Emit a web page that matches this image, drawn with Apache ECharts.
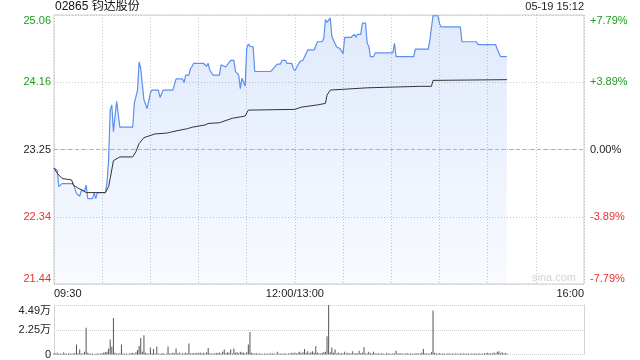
<!DOCTYPE html>
<html><head><meta charset="utf-8">
<script src="https://cdn.jsdelivr.net/npm/echarts@6/dist/echarts.min.js"></script>
<style>html,body{margin:0;padding:0;background:#fff}#c{width:640px;height:360px}</style>
</head><body><div id="c"></div>
<script>
const stockTitle = '02865 钧达股份';
const stamp = '05-19 15:12';
const prevClose = 23.25;
const priceMin = 21.44, priceMax = 25.06;
const leftLabels = ['21.44', '22.34', '23.25', '24.16', '25.06'];
const rightLabels = ['-7.79%', '-3.89%', '0.00%', '+3.89%', '+7.79%'];
const volLabels = ['0', '2.25万', '4.49万'];
const volMax = 4.49;

const priceTimes = ['09:30','09:32','09:33','09:35','09:42','09:44','09:45','09:46','09:47','09:49','09:50','09:51','09:54','09:55','09:56','09:57','10:02','10:03','10:04','10:05','10:06','10:07','10:08','10:09','10:10','10:11','10:19','10:20','10:22','10:23','10:24','10:26','10:28','10:29','10:30','10:31','10:35','10:36','10:37','10:38','10:44','10:46','10:50','10:51','10:52','10:54','10:55','10:56','10:57','11:03','11:05','11:06','11:07','11:09','11:13','11:14','11:15','11:17','11:18','11:20','11:22','11:23','11:24','11:25','11:26','11:27','11:28','11:29','11:30','11:31','11:32','11:34','11:35','11:45','11:46','11:49','11:51','11:52','11:54','11:55','11:58','11:59','12:00',
'13:01','13:03','13:05','13:06','13:08','13:12','13:14','13:17','13:18','13:19','13:20','13:22','13:23','13:24','13:26','13:28','13:30','13:31','13:35','13:37','13:38','13:39','13:41','13:42','13:44','13:45','13:46','13:47','13:49','13:50','14:01','14:02','14:03','14:14','14:15','14:23','14:24','14:26','14:29','14:30','14:31','14:43','14:44','14:53','14:54','15:05','15:06','15:07','15:08','15:12'];
const priceValues = [23.00,22.97,22.75,22.79,22.79,22.66,22.66,22.62,22.70,22.69,22.77,22.59,22.59,22.67,22.59,22.67,22.67,22.80,23.11,23.78,23.85,23.49,23.49,23.90,23.90,23.55,23.55,23.87,24.05,24.43,24.34,23.92,23.80,23.80,24.01,24.05,24.05,23.95,23.95,24.05,24.05,24.20,24.20,24.15,24.25,24.25,24.34,24.37,24.41,24.41,24.37,24.41,24.32,24.25,24.25,24.39,24.40,24.36,24.37,24.45,24.45,24.30,24.32,24.25,24.07,24.21,24.22,24.10,24.61,24.67,24.64,24.63,24.30,24.30,24.32,24.40,24.40,24.45,24.45,24.41,24.41,24.34,24.31,
24.31,24.43,24.45,24.45,24.59,24.59,24.70,24.70,24.75,25.00,24.96,25.02,24.77,24.72,24.63,24.61,24.54,24.76,24.76,24.80,24.76,24.80,24.80,24.95,24.95,24.68,24.64,24.50,24.50,24.55,24.55,24.68,24.50,24.50,24.60,24.60,24.72,25.05,25.05,24.95,24.90,24.90,24.70,24.70,24.66,24.66,24.60,24.59,24.50,24.50];

const avgTimes = ['09:30','09:32','09:35','09:41','09:42','09:45','09:48','09:50','10:02','10:04','10:05','10:07','10:11','10:19','10:21','10:23','10:26','10:33','10:40','10:42','10:46','10:53','10:56','11:04','11:06','11:13','11:21','11:29','11:31','12:00','13:04','13:14','13:19','13:20','13:22','13:30','13:45','14:18','14:25','14:26','15:12'];
const avgValues = [23.00,22.93,22.86,22.84,22.77,22.73,22.70,22.67,22.67,22.75,22.86,23.10,23.15,23.15,23.22,23.33,23.41,23.46,23.47,23.48,23.50,23.53,23.55,23.58,23.60,23.61,23.67,23.70,23.78,23.79,23.82,23.85,23.87,23.98,24.05,24.06,24.08,24.10,24.10,24.18,24.19];

// volume per trading minute from 09:30 (unit: 万股)
const volumeValues = [
0.12,0.08,0.15,0.06,0.10,0.05,0.18,0.09,0.07,0.12,
0.10,0.06,0.08,0.14,0.90,0.12,0.45,0.10,0.08,0.25,
2.42,0.15,0.10,0.06,0.08,0.05,0.07,0.10,0.06,0.09,
0.12,0.18,0.20,0.25,0.55,1.35,0.70,3.32,0.15,0.10,
0.08,0.12,0.90,0.10,0.06,0.08,0.05,0.09,0.12,0.15,
0.10,0.20,0.40,0.78,1.50,0.25,1.74,0.15,0.10,0.08,
0.63,0.12,0.50,0.10,0.72,0.08,0.06,0.10,0.14,0.05,
0.09,0.72,0.10,0.08,0.15,0.12,0.55,0.10,0.18,0.07,
0.12,0.08,0.15,0.10,0.99,0.12,0.09,0.14,0.10,0.16,
0.12,0.18,0.10,0.15,0.08,0.20,0.60,0.12,0.06,0.10,
0.08,0.15,0.12,0.18,0.10,0.25,0.45,0.12,0.20,0.15,
0.45,0.10,0.54,0.15,0.20,0.12,0.25,0.18,0.15,0.10,
0.20,0.90,2.04,0.15,0.10,0.08,0.12,0.06,0.10,0.08,
0.05,0.09,0.07,0.10,0.06,0.12,0.08,0.10,0.05,0.25,
0.08,0.06,0.10,0.07,0.12,0.05,0.09,0.10,0.15,0.12,
0.18,0.10,0.15,0.25,0.12,0.20,0.50,0.15,0.30,0.12,
0.20,0.30,0.15,0.75,0.18,0.12,0.10,0.15,0.20,0.25,
1.65,4.49,0.20,0.63,0.15,0.45,0.10,0.18,0.08,0.12,
0.10,0.25,0.08,0.15,0.10,0.12,0.30,0.08,0.14,0.10,
0.35,0.12,0.15,0.66,0.10,0.08,0.25,0.12,0.09,0.25,
0.10,0.08,0.12,0.06,0.10,0.09,0.05,0.12,0.08,0.10,
0.07,0.12,0.09,0.33,0.10,0.08,0.12,0.06,0.10,0.08,
0.12,0.07,0.10,0.09,0.06,0.10,0.12,0.08,0.10,0.15,
0.50,0.12,0.08,0.10,0.06,0.20,3.98,0.15,0.10,0.08,
0.12,0.06,0.10,0.08,0.05,0.09,0.12,0.07,0.10,0.06,
0.08,0.10,0.05,0.12,0.07,0.09,0.06,0.10,0.08,0.05,
0.10,0.07,0.12,0.06,0.09,0.08,0.05,0.10,0.12,0.08,
0.15,0.10,0.12,0.08,0.18,0.10,0.25,0.30,0.12,0.20,
0.10,0.15,0.08];

const xLabels = {0: '09:30', 150: '12:00/13:00', 330: '16:00'};
const GREEN = '#1b9e1b', RED = '#e8312f', BLACK = '#222';
const labelColors = [RED, RED, BLACK, GREEN, GREEN];

function toIdx(t) {
  const p = t.split(':').map(Number);
  const v = p[0] * 60 + p[1];
  return v <= 720 ? v - 570 : v - 630;
}
const priceData = priceTimes.map((t, i) => [toIdx(t), priceValues[i]]);
const avgData = avgTimes.map((t, i) => [toIdx(t), avgValues[i]]);
const volData = volumeValues.map((v, i) => [i, v]);

const FONT = '"Liberation Sans", Arial, "Noto Sans CJK SC", sans-serif';
const chart = echarts.init(document.getElementById('c'), null, {renderer: 'canvas'});
const priceInterval = (priceMax - priceMin) / 4;

chart.setOption({
  animation: false,
  textStyle: {fontFamily: FONT},
  grid: [
    {left: 54, right: 56, top: 15, height: 269, show: true, borderColor: '#cccccc', borderWidth: 1, backgroundColor: 'transparent'},
    {left: 54, right: 56, top: 305, height: 50}
  ],
  xAxis: [
    {type: 'value', gridIndex: 0, min: 0, max: 330, interval: 30,
     axisLine: {show: false}, axisTick: {show: false},
     splitLine: {show: true, lineStyle: {color: '#c8c8c8', type: [1, 2], width: 1}},
     axisLabel: {show: true, margin: 4, fontSize: 11, color: '#222', fontFamily: FONT,
       alignMinLabel: 'left', alignMaxLabel: 'right',
       formatter: v => xLabels[v] || ''}},
    {type: 'value', gridIndex: 1, min: 0, max: 330, interval: 30,
     axisLine: {show: false}, axisTick: {show: false}, axisLabel: {show: false}, splitLine: {show: false}}
  ],
  yAxis: [
    {type: 'value', gridIndex: 0, position: 'left', min: priceMin, max: priceMax, interval: priceInterval,
     axisLine: {show: false}, axisTick: {show: false},
     splitLine: {show: true, lineStyle: {color: '#c8c8c8', type: [1, 2], width: 1}},
     axisLabel: {margin: 3, fontSize: 11, fontFamily: FONT,
       verticalAlignMinLabel: 'bottom', verticalAlignMaxLabel: 'top',
       formatter: (v, i) => leftLabels[i], color: (v, i) => labelColors[i]}},
    {type: 'value', gridIndex: 0, position: 'right', min: priceMin, max: priceMax, interval: priceInterval,
     axisLine: {show: false}, axisTick: {show: false}, splitLine: {show: false},
     axisLabel: {margin: 6, fontSize: 11, fontFamily: FONT,
       verticalAlignMinLabel: 'bottom', verticalAlignMaxLabel: 'top',
       formatter: (v, i) => rightLabels[i], color: (v, i) => labelColors[i]}},
    {type: 'value', gridIndex: 1, position: 'left', min: 0, max: volMax, interval: volMax / 2,
     axisLine: {show: true, lineStyle: {color: '#d4d4d4'}}, axisTick: {show: false},
     splitLine: {show: true, lineStyle: {color: '#cfcfcf', type: [1, 1], width: 1}},
     axisLabel: {margin: 3, fontSize: 11, color: '#222', fontFamily: FONT,
       verticalAlignMaxLabel: 'top',
       formatter: (v, i) => volLabels[i]}},
    {type: 'value', gridIndex: 1, position: 'right', min: 0, max: volMax,
     axisLine: {show: true, lineStyle: {color: '#d4d4d4'}}, axisTick: {show: false},
     axisLabel: {show: false}, splitLine: {show: false}}
  ],
  series: [
    {type: 'line', xAxisIndex: 0, yAxisIndex: 0, data: priceData, showSymbol: false, symbol: 'none',
     lineStyle: {color: '#5b8ff0', width: 1.2},
     areaStyle: {color: new echarts.graphic.LinearGradient(0, 0, 0, 1, [
       {offset: 0, color: 'rgba(90,143,240,0.27)'}, {offset: 1, color: 'rgba(90,143,240,0.06)'}])},
     markLine: {silent: true, symbol: 'none', label: {show: false},
       lineStyle: {color: '#b0b0b0', type: [4, 3], width: 1},
       data: [{yAxis: prevClose}]},
     z: 3},
    {type: 'line', xAxisIndex: 0, yAxisIndex: 0, data: avgData, showSymbol: false, symbol: 'none',
     lineStyle: {color: '#333333', width: 1}, z: 4},
    {type: 'bar', xAxisIndex: 1, yAxisIndex: 2, data: volData, barWidth: 1,
     itemStyle: {color: '#555555'}}
  ],
  graphic: [
    {type: 'text', left: 55, top: 1, style: {text: stockTitle, fontSize: 12, fill: '#111', fontFamily: FONT}},
    {type: 'text', right: 56, top: 1, style: {text: stamp, fontSize: 11, fill: '#222', fontFamily: FONT}},
    {type: 'text', left: 532, top: 272, style: {text: 'sina.com', fontSize: 11, fill: '#d2d2d2', fontFamily: FONT}}
  ]
});
</script></body></html>
